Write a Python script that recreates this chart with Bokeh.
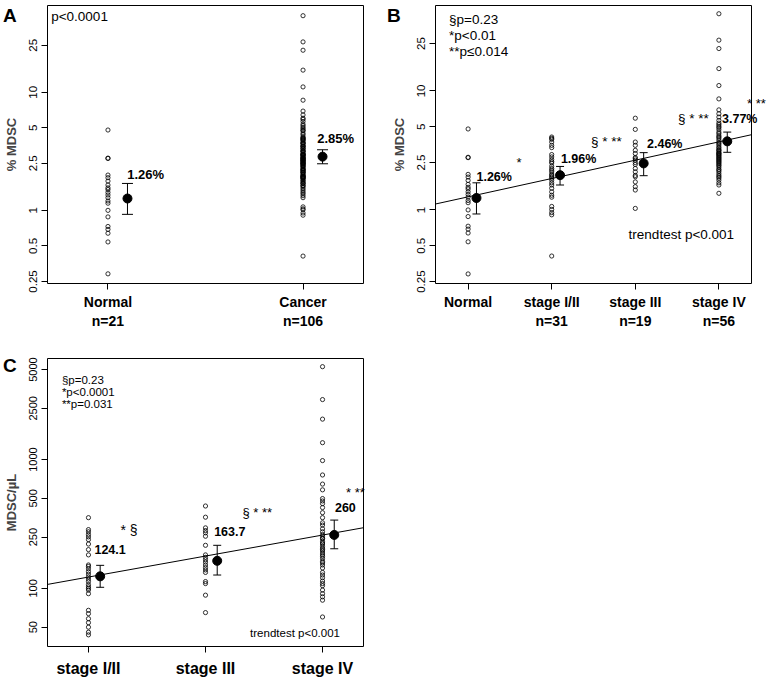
import numpy as np
from bokeh.plotting import figure
from bokeh.models import (Range1d, FixedTicker, NumeralTickFormatter, Label,
                          Whisker, TeeHead, ColumnDataSource, GridBox, Div)
from bokeh.embed import file_html
from bokeh.resources import INLINE

FONT = "Liberation Sans"

# ---------------- data: % MDSC (panels A and B) ----------------
normal = [4.79, 2.77, 2.75, 1.99, 1.89, 1.77, 1.64, 1.55, 1.50, 1.42, 1.35,
          1.28, 1.20, 1.15, 1.0, 0.88, 0.73, 0.69, 0.64, 0.54, 0.29]
stage12 = [4.10, 4.0, 3.92, 3.72, 3.49, 3.34, 2.92, 2.79, 2.65, 2.55, 2.48,
           2.33, 2.23, 2.16, 2.09, 2.00, 1.95, 1.90, 1.85, 1.78, 1.69, 1.62,
           1.52, 1.42, 1.33, 1.28, 1.07, 1.01, 0.95, 0.91, 0.41]
stage3 = [5.90, 4.75, 3.72, 3.49, 3.17, 2.98, 2.76, 2.70, 2.62, 2.50, 2.41,
          2.23, 2.09, 1.95, 1.90, 1.72, 1.57, 1.47, 1.03]
stage4 = [44.5, 26.7, 22.7, 15.4, 11.1, 8.57, 6.93, 6.43, 6.03, 5.65, 5.36,
          5.2, 5.03, 4.9, 4.72, 4.5, 4.37, 4.2, 4.10, 4.0, 3.85, 3.7, 3.61,
          3.5, 3.38, 3.3, 3.2, 3.17, 3.1, 3.01, 3.0, 2.95, 2.9, 2.86, 2.8,
          2.75, 2.70, 2.65, 2.6, 2.55, 2.5, 2.45, 2.39, 2.35, 2.28, 2.2, 2.16,
          2.1, 2.02, 1.95, 1.90, 1.85, 1.78, 1.69, 1.62, 1.38]
cancer = stage12 + stage3 + stage4

a_labels = ["Normal\nn=21", "Cancer\nn=106"]
a_mean = [1.26, 2.85]
a_low = [0.925, 2.48]
a_high = [1.69, 3.26]
a_text = ["1.26%", "2.85%"]

b_labels = ["Normal", "stage I/II\nn=31", "stage III\nn=19", "stage IV\nn=56"]
b_mean = [1.26, 1.96, 2.46, 3.77]
b_low = [0.925, 1.62, 1.94, 3.05]
b_high = [1.69, 2.32, 3.03, 4.51]
b_text = ["1.26%", "1.96%", "2.46%", "3.77%"]
b_trend = (-0.044, 0.154)   # log10(y) = a + b*x

pct_ticks = [0.25, 0.5, 1, 2.5, 5, 10, 25]

# ---------------- data: MDSC/uL (panel C) ----------------
c12 = [354, 286, 275, 262, 251, 239, 221, 200, 182, 152, 148, 142, 135, 129,
       123, 118, 113, 107, 103, 100, 97, 91, 67.6, 63.7, 58.2, 54.2, 50.0,
       45.7, 43.6]
c3 = [436, 357, 295, 281, 270, 254, 216, 182, 174, 167, 160, 152, 145, 139,
      133, 113, 109, 88.6, 64.9]
c4 = [5260, 2922, 2060, 1352, 982, 759, 645, 582, 498, 477, 455, 424, 387,
      354, 323, 310, 290, 275, 262, 254, 245, 243, 232, 225, 221, 212, 205,
      200, 195, 188, 182, 177, 170, 162, 158, 152, 144, 133, 127, 121, 114,
      109, 105, 97, 91, 86, 81, 60]
c_labels = ["stage I/II", "stage III", "stage IV"]
c_mean = [124.1, 163.7, 260]
c_low = [102, 127, 203]
c_high = [151, 216, 339]
c_text = ["124.1", "163.7", "260"]
c_trend = (1.925, 0.163)
abs_ticks = [50, 100, 250, 500, 1000, 2500, 5000]


def make_fig(width, height, xr, yr, bl, bt, bb, br, ticks, labels, yticks,
             ylabel, xfont, yfont, xstand):
    p = figure(width=width, height=height, x_range=Range1d(*xr),
               y_range=Range1d(*yr), y_axis_type="log", output_backend="svg",
               toolbar_location=None, min_border_left=bl, min_border_top=bt,
               min_border_bottom=bb, min_border_right=br)
    p.xgrid.visible = False
    p.ygrid.visible = False
    p.outline_line_color = "black"
    p.outline_line_width = 1
    p.outline_line_alpha = 1
    p.background_fill_color = "white"
    p.border_fill_color = "white"
    for ax in (p.xaxis[0], p.yaxis[0]):
        ax.axis_line_color = None
        ax.major_tick_out = 6
        ax.major_tick_in = 0
        ax.minor_tick_line_color = None
        ax.major_tick_line_color = "black"
        ax.major_label_text_color = "black"
        ax.major_label_text_font = FONT
    xa = p.xaxis[0]
    xa.ticker = FixedTicker(ticks=ticks)
    xa.major_label_overrides = {t: l for t, l in zip(ticks, labels)}
    xa.major_label_text_font_style = "bold"
    xa.major_label_text_font_size = xfont
    xa.major_label_standoff = xstand
    ya = p.yaxis[0]
    ya.ticker = FixedTicker(ticks=yticks)
    ya.formatter = NumeralTickFormatter(format="0[.][00]")
    ya.major_label_orientation = "vertical"
    ya.major_label_text_font_size = yfont
    ya.major_label_standoff = 4
    ya.axis_label = ylabel
    ya.axis_label_text_font = FONT
    ya.axis_label_text_font_style = "bold"
    ya.axis_label_text_font_size = "13px"
    ya.axis_label_standoff = 8
    return p


def points(p, pos, vals):
    p.scatter(x=[pos] * len(vals), y=vals, size=4.2, marker="circle",
              fill_color=None, line_color="black", line_width=0.8)


def means(p, positions, m, lo, hi, head):
    xs = [x + 0.1 for x in positions]
    src = ColumnDataSource(dict(x=xs, upper=hi, lower=lo))
    p.add_layout(Whisker(source=src, base="x", upper="upper", lower="lower",
                         dimension="height", line_color="black", line_width=1,
                         upper_head=TeeHead(size=head, line_color="black", line_width=1),
                         lower_head=TeeHead(size=head, line_color="black", line_width=1)))
    p.scatter(x=xs, y=m, size=9, marker="circle", color="black")


def lab(p, x, y, text, size, bold=False, align="left"):
    p.add_layout(Label(x=x, y=y, text=text, text_font=FONT,
                       text_font_size=size,
                       text_font_style="bold" if bold else "normal",
                       text_baseline="middle", text_align=align,
                       text_color="black"))


def overlay(text, size, top, left, width, bold=True):
    # free-standing text that sits outside the plotting frame
    return Div(text=text, width=width, height=int(size),
               margin=(top, 0, 0, left), align="start",
               styles={"font-family": FONT, "font-size": f"{size}px",
                       "font-weight": "bold" if bold else "normal",
                       "line-height": "1", "white-space": "nowrap",
                       "color": "black", "background": "transparent"})


def trend(p, coef):
    a, b = coef
    xs = [p.x_range.start, p.x_range.end]
    ys = [10 ** (a + b * x) for x in xs]
    p.line(xs, ys, line_color="black", line_width=1)


# ---------------- panel A ----------------
pA = make_fig(385, 335, (0.69, 2.31), (0.2402, 54.3), 47, 5, 52, 22,
              [1, 2], a_labels, pct_ticks, "% MDSC", "14px", "11.5px", 4)
points(pA, 1, normal)
points(pA, 2, cancer)
means(pA, [1, 2], a_mean, a_low, a_high, 11)
lab(pA, 0.709, 43.7, "p<0.0001", "13.5px")
lab(pA, 1.099, 2.02, a_text[0], "13px", True)
lab(pA, 2.073, 4.07, a_text[1], "13px", True)

# ---------------- panel B ----------------
pB = make_fig(384, 335, (0.61, 4.39), (0.241, 52.2), 50, 5, 51, 18,
              [1, 2, 3, 4], b_labels, pct_ticks, "% MDSC", "14px", "11.5px", 4)
for pos, vals in zip([1, 2, 3, 4], [normal, stage12, stage3, stage4]):
    points(pB, pos, vals)
trend(pB, b_trend)
means(pB, [1, 2, 3, 4], b_mean, b_low, b_high, 8)
lab(pB, 0.772, 39.9, "§p=0.23", "13.5px")
lab(pB, 0.772, 29.4, "*p<0.01", "13.5px")
lab(pB, 0.772, 21.4, "**p≤0.014", "13.5px")
lab(pB, 1.10, 1.90, b_text[0], "12.5px", True)
lab(pB, 2.11, 2.70, b_text[1], "12.5px", True)
lab(pB, 3.14, 3.61, b_text[2], "12.5px", True)
lab(pB, 1.58, 2.50, "*", "13px")
lab(pB, 2.47, 3.77, "§ * **", "13.5px")
lab(pB, 3.51, 5.84, "§ * **", "13.5px")
lab(pB, 2.92, 0.618, "trendtest p<0.001", "13.5px")

# ---------------- panel C ----------------
pC = make_fig(385, 346, (0.65, 3.35), (35.4, 6087), 47, 23, 35, 22,
              [1, 2, 3], c_labels, abs_ticks, "MDSC/µL", "16px", "11px", 7)
for pos, vals in zip([1, 2, 3], [c12, c3, c4]):
    points(pC, pos, vals)
trend(pC, c_trend)
means(pC, [1, 2, 3], c_mean, c_low, c_high, 8)
lab(pC, 0.773, 4130, "§p=0.23", "11.5px")
lab(pC, 0.773, 3373, "*p<0.0001", "11.5px")
lab(pC, 0.773, 2685, "**p=0.031", "11.5px")
lab(pC, 1.051, 202, c_text[0], "12.5px", True)
lab(pC, 2.074, 275, c_text[1], "12.5px", True)
lab(pC, 3.106, 424, c_text[2], "12.5px", True)
lab(pC, 1.273, 286, "* §", "14px")
lab(pC, 2.316, 387, "§ * **", "13px")
lab(pC, 2.381, 44.9, "trendtest p<0.001", "11.5px")

# texts that reach outside the frames
dA = overlay("A", 19, 6, 3, 20)
dB = overlay("B", 19, 6, 2, 20)
dC = overlay("C", 19, 21, 3, 20)
dB377 = overlay(b_text[3], 12.5, 113, 337, 40)
dBst = overlay("* **", 13, 97, 362, 21, bold=False)
dCst = overlay("* **", 13, 151, 346, 21, bold=False)

layout = GridBox(children=[(pA, 0, 0), (pB, 0, 1), (pC, 1, 0),
                           (dA, 0, 0), (dB, 0, 1), (dC, 1, 0),
                           (dB377, 0, 1), (dBst, 0, 1), (dCst, 1, 0)],
                 spacing=0)
open("out.html", "w").write(file_html(layout, INLINE))
